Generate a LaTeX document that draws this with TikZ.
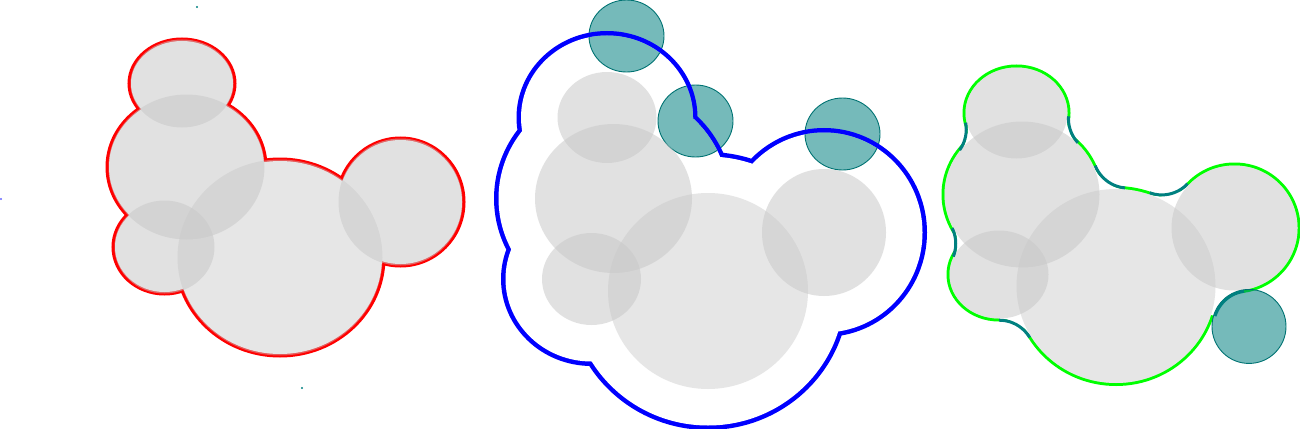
\documentclass[tikz,border=0pt]{standalone}
\definecolor{gcol}{RGB}{200,200,200}
\definecolor{tealc}{RGB}{0,128,128}
\definecolor{limec}{RGB}{0,255,0}
\definecolor{bluec}{RGB}{0,0,255}
\definecolor{redc}{RGB}{255,0,0}
\tikzset{
  grayblob/.style={fill=gcol, fill opacity=0.53},
  mainblob/.style={fill=gcol, fill opacity=0.45},
  tealblob/.style={fill=tealc, fill opacity=0.54, draw=tealc!90!black, line width=0.9pt},
  redrim/.style={draw=redc, line width=7pt},
  bluerim/.style={draw=bluec, line width=9pt},
  greenrim/.style={draw=limec, line width=6pt},
  fillettrace/.style={draw=tealc, line width=3pt},
  speck/.style={fill=tealc},
}
% panel 1 ellipses (dx, dy added to radii)
\newcommand\setA[2]{(182,83.5) ellipse [x radius={51.5+(#1)}, y radius={44+(#2)}]
  (186.5,167) ellipse [x radius={78+(#1)}, y radius={72.5+(#2)}]
  (164.5,247) ellipse [x radius={50+(#1)}, y radius={46.5+(#2)}]
  (280,257.5) ellipse [x radius={102.5+(#1)}, y radius={98+(#2)}]
  (400.5,202) ellipse [x radius={62+(#1)}, y radius={63.5+(#2)}]}
% panel 2 ellipses, enlarged by #1
\newcommand\setB[1]{(607,117.5) ellipse [x radius={49.5+#1}, y radius={45.5+#1}]
  (613.5,198.5) ellipse [x radius={78.5+#1}, y radius={74.5+#1}]
  (591.5,279) ellipse [x radius={49.5+#1}, y radius={46+#1}]
  (708,291) ellipse [x radius={100+#1}, y radius={98+#1}]
  (824,232.5) ellipse [x radius={62+#1}, y radius={63.5+#1}]}
% panel 3 ellipses
\newcommand\setC{(1016.5,113) ellipse [x radius=51, y radius=45.5]
  (1022,194.5) ellipse [x radius=77.5, y radius=73]
  (999,274.5) ellipse [x radius=49.5, y radius=44]
  (1116,286) ellipse [x radius=99.5, y radius=97]
  (1234.5,228) ellipse [x radius=63, y radius=62.5]}
\newcommand\probeR{37}
% fillet probe centre: name, x1,y1,r1, x2,y2,r2, side
\newcommand\mkfillet[8]{%
  \edef\Fd{\fpeval{sqrt((#5-(#2))^2+(#6-(#3))^2)}}%
  \edef\Fra{\fpeval{#4+\probeR}}%
  \edef\Frb{\fpeval{#7+\probeR}}%
  \edef\Fa{\fpeval{(\Fd^2+\Fra^2-\Frb^2)/(2*\Fd)}}%
  \edef\Fh{\fpeval{sqrt(\Fra^2-\Fa^2)}}%
  \edef\Fux{\fpeval{(#5-(#2))/\Fd}}%
  \edef\Fuy{\fpeval{(#6-(#3))/\Fd}}%
  \edef\Fpx{\fpeval{#2+\Fa*\Fux-(#8)*\Fh*\Fuy}}%
  \edef\Fpy{\fpeval{#3+\Fa*\Fuy+(#8)*\Fh*\Fux}}%
  \coordinate (#1) at (\Fpx,\Fpy);%
}
\newcommand\notchwhite[3]{\begin{scope}\clip (#1) -- (#2) -- (#3) -- cycle;
  \fill[white, even odd rule] (#2) circle[radius=\probeR] (-5,-5) rectangle (1305,433);\end{scope}}
\newcommand\notcharc[3]{\begin{scope}\clip (#1) -- (#2) -- (#3) -- cycle;
  \draw[fillettrace] (#2) circle[radius={\probeR-1.5}];\end{scope}}
\begin{document}
\begin{tikzpicture}[x=1pt,y=-1pt]
\useasboundingbox (0,0) rectangle (1300,428);

% stray specks
\fill[speck] (197,7) circle[radius=1.2];
\fill[speck] (302,388) circle[radius=1.2];
\fill[speck] (550,250) circle[radius=1.2];
\fill[bluec!60] (1,199) circle[radius=1.2];
\fill[bluec!40] (831,228) circle[radius=0.8];
\fill[bluec!40] (418,232) circle[radius=0.8];

% ---------- panel 1 ----------
\draw[redrim] \setA{-0.5}{-1.5};
\fill[white] \setA{-0.5}{-1.5};
\fill[grayblob] (182,83.5) ellipse [x radius=51.5, y radius=44];
\fill[grayblob] (186.5,167) ellipse [x radius=78, y radius=72.5];
\fill[grayblob] (164.5,247) ellipse [x radius=50, y radius=46.5];
\fill[mainblob] (280,257.5) ellipse [x radius=102.5, y radius=98];
\fill[grayblob] (400.5,202) ellipse [x radius=62, y radius=63.5];

% ---------- panel 2 ----------
\newcommand\tealsB{%
  \draw[tealblob] (626.5,36) ellipse [x radius=37.5, y radius=36];
  \draw[tealblob] (695.5,121) ellipse [x radius=37.5, y radius=36];
  \draw[tealblob] (842.5,134) ellipse [x radius=37.5, y radius=36];}
\tealsB
\draw[bluerim] \setB{36.5};
\fill[white] \setB{36.5};
\begin{scope}
  \clip \setB{36.5};
  \tealsB
\end{scope}
\fill[grayblob] (607,117.5) ellipse [x radius=49.5, y radius=45.5];
\fill[grayblob] (613.5,198.5) ellipse [x radius=78.5, y radius=74.5];
\fill[grayblob] (591.5,279) ellipse [x radius=49.5, y radius=46];
\fill[mainblob] (708,291) ellipse [x radius=100, y radius=98];
\fill[grayblob] (824,232.5) ellipse [x radius=62, y radius=63.5];

% ---------- panel 3 ----------
\coordinate (cT) at (1016.5,113);
\coordinate (cL) at (1022,194.5);
\coordinate (cB) at (999,274.5);
\coordinate (cM) at (1116,286);
\coordinate (cR) at (1234.5,228);
\mkfillet{F1}{1016.5}{113}{50.3}{1022}{194.5}{75.1}{1}
\mkfillet{F2}{1016.5}{113}{50.6}{1022}{194.5}{74.7}{-1}
\mkfillet{F3}{1022}{194.5}{77.2}{1116}{286}{97}{-1}
\mkfillet{F4}{1116}{286}{97.6}{1234.5}{228}{63}{-1}
\mkfillet{F5}{1116}{286}{102}{1234.5}{228}{62.5}{1}
\mkfillet{F6}{1116}{286}{99}{999}{274.5}{44.2}{-1}
\mkfillet{F7}{999}{274.5}{47.6}{1022}{194.5}{76}{-1}

\draw[greenrim] \setC;
\fill[white] \setC;
\notchwhite{cT}{F1}{cL}
\notchwhite{cT}{F2}{cL}
\notchwhite{cL}{F3}{cM}
\notchwhite{cM}{F4}{cR}
\notchwhite{cM}{F5}{cR}
\notchwhite{cM}{F6}{cB}
\notchwhite{cB}{F7}{cL}

\fill[grayblob] (1016.5,113) ellipse [x radius=51, y radius=45.5];
\fill[grayblob] (1022,194.5) ellipse [x radius=77.5, y radius=73];
\fill[grayblob] (999,274.5) ellipse [x radius=49.5, y radius=44];
\fill[mainblob] (1116,286) ellipse [x radius=99.5, y radius=97];
\fill[grayblob] (1234.5,228) ellipse [x radius=63, y radius=62.5];

\draw[tealblob] (F5) circle[radius=\probeR];
\notcharc{cT}{F1}{cL}
\notcharc{cT}{F2}{cL}
\notcharc{cL}{F3}{cM}
\notcharc{cM}{F4}{cR}
\notcharc{cM}{F5}{cR}
\notcharc{cM}{F6}{cB}
\notcharc{cB}{F7}{cL}
\end{tikzpicture}
\end{document}
